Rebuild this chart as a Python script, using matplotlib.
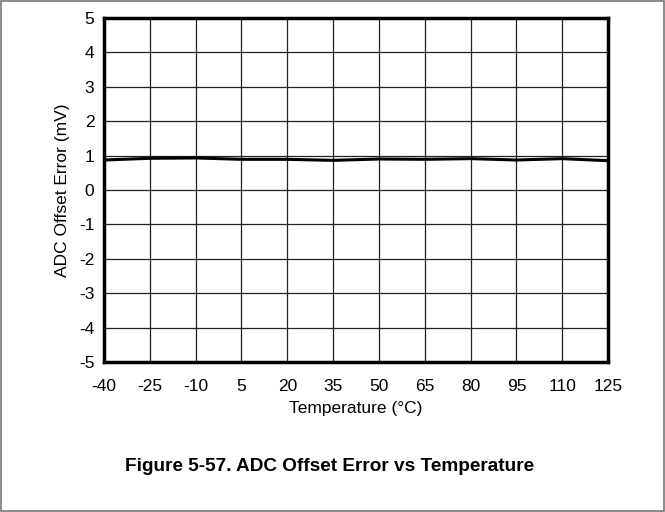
import matplotlib
matplotlib.use("Agg")
import matplotlib.pyplot as plt
from matplotlib.patches import Rectangle

plt.rcParams['font.family'] = ['Liberation Sans', 'DejaVu Sans']
plt.rcParams['axes.unicode_minus'] = False

# data
temps = [-40, -25, -10, 5, 20, 35, 50, 65, 80, 95, 110, 125]
offset_mv = [0.87, 0.92, 0.93, 0.89, 0.89, 0.86, 0.90, 0.89, 0.91, 0.87, 0.91, 0.85]
x_ticks = [-40, -25, -10, 5, 20, 35, 50, 65, 80, 95, 110, 125]
y_ticks = [-5, -4, -3, -2, -1, 0, 1, 2, 3, 4, 5]

fig = plt.figure(figsize=(6.65, 5.12), dpi=100)
fig.patches.append(Rectangle((0.0015, 0.002), 0.997, 0.996, transform=fig.transFigure,
                             fill=False, edgecolor="#777777", linewidth=1.2))

ax = fig.add_axes([0.1564, 0.293, 0.758, 0.672])
ax.plot(temps, offset_mv, color="black", linewidth=2.2, zorder=3)

ax.set_xlim(-40, 125)
ax.set_ylim(-5, 5)
ax.set_xticks(x_ticks)
ax.set_yticks(y_ticks)
ax.grid(color="#222222", linewidth=0.9)
ax.tick_params(length=0, labelsize=12.5)
ax.tick_params(axis="x", pad=12)
ax.tick_params(axis="y", pad=7)
for sp in ax.spines.values():
    sp.set_linewidth(2.5)

ax.set_xlabel("Temperature (°C)", fontsize=12.5, labelpad=5)
ax.set_ylabel("ADC Offset Error (mV)", fontsize=12.5, labelpad=6)

fig.text(0.496, 0.088, "Figure 5-57. ADC Offset Error vs Temperature",
         ha="center", va="center", fontsize=13.7, fontweight="bold")

fig.savefig("out.png", dpi=100)
